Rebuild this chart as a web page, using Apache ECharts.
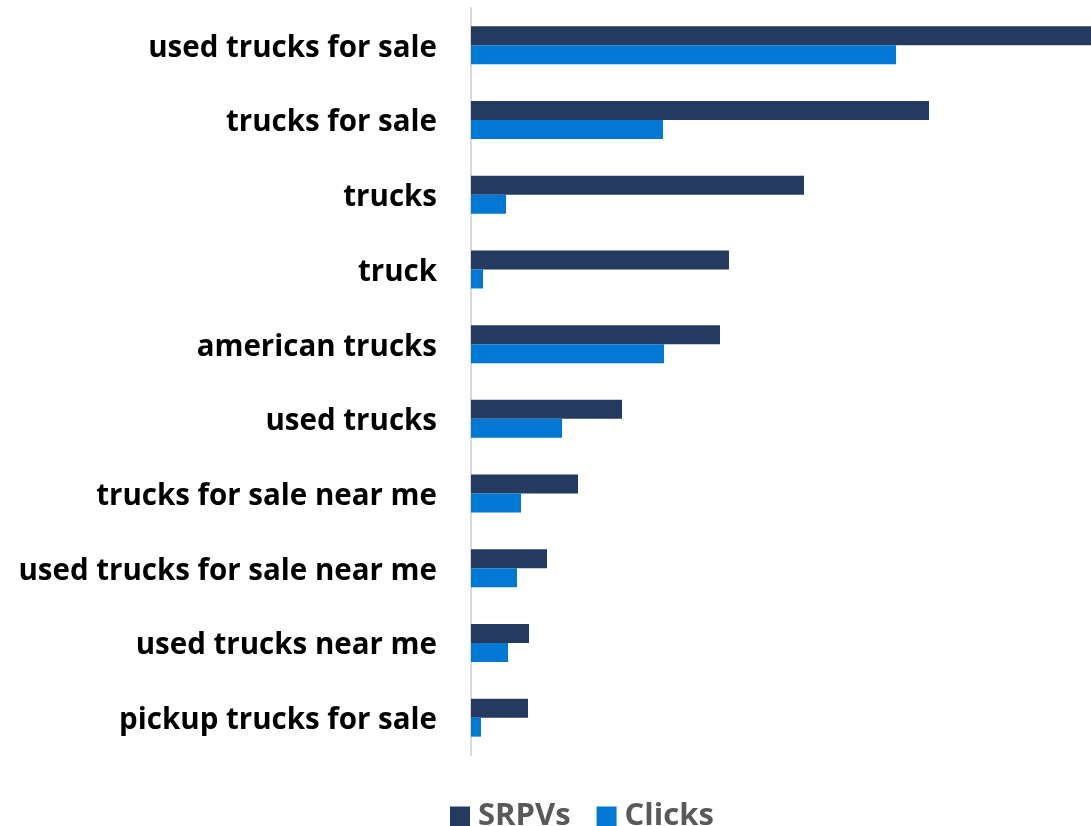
<!DOCTYPE html>
<html>
<head>
<meta charset="utf-8">
<script src="https://cdn.jsdelivr.net/npm/echarts@6/dist/echarts.min.js"></script>
<style>
  html, body { margin: 0; padding: 0; background: #fff; }
  #chart { width: 1091px; height: 826px; }
</style>
</head>
<body>
<div id="chart"></div>
<script>
// search terms, top to bottom
var categories = [
  'used trucks for sale',
  'trucks for sale',
  'trucks',
  'truck',
  'american trucks',
  'used trucks',
  'trucks for sale near me',
  'used trucks for sale near me',
  'used trucks near me',
  'pickup trucks for sale'
]
// values (relative units)
var srpvs = [620, 458, 333, 258, 249, 151, 107, 76, 58, 57]
var clicks = [425, 192, 35, 12, 193, 91, 50, 46, 37, 10]
var seriesNames = ['SRPVs', 'Clicks']

var chart = echarts.init(document.getElementById('chart'))
var option = {
  animation: false,
  grid: { left: 471, right: 0, top: 8, bottom: 71, containLabel: false },
  legend: {
    data: seriesNames,
    top: 796,
    left: 445,
    itemWidth: 20,
    itemHeight: 20,
    itemGap: 26,
    icon: 'rect',
    textStyle: { color: '#595959', fontSize: 31, fontWeight: 'bold', fontFamily: 'Open Sans', padding: [0, 0, 0, 3] }
  },
  xAxis: {
    type: 'value',
    min: 0,
    max: 620,
    show: false,
    splitLine: { show: false }
  },
  yAxis: {
    type: 'category',
    data: categories,
    inverse: true,
    axisLine: { show: true, lineStyle: { color: '#d9d9d9', width: 2 } },
    axisTick: { show: false },
    axisLabel: {
      margin: 34,
      formatter: '{t|{value}}',
      rich: {
        t: {
          color: '#000',
          fontSize: 29.5,
          fontWeight: 'bold',
          fontFamily: 'Open Sans',
          padding: [6, 0, 0, 0]
        }
      }
    }
  },
  series: [
    {
      name: seriesNames[0],
      type: 'bar',
      data: srpvs,
      barWidth: 19,
      barGap: '0%',
      itemStyle: { color: '#243a5e' }
    },
    {
      name: seriesNames[1],
      type: 'bar',
      data: clicks,
      barWidth: 19,
      itemStyle: { color: '#0078d4' }
    }
  ]
}
chart.setOption(option)
</script>
</body>
</html>
